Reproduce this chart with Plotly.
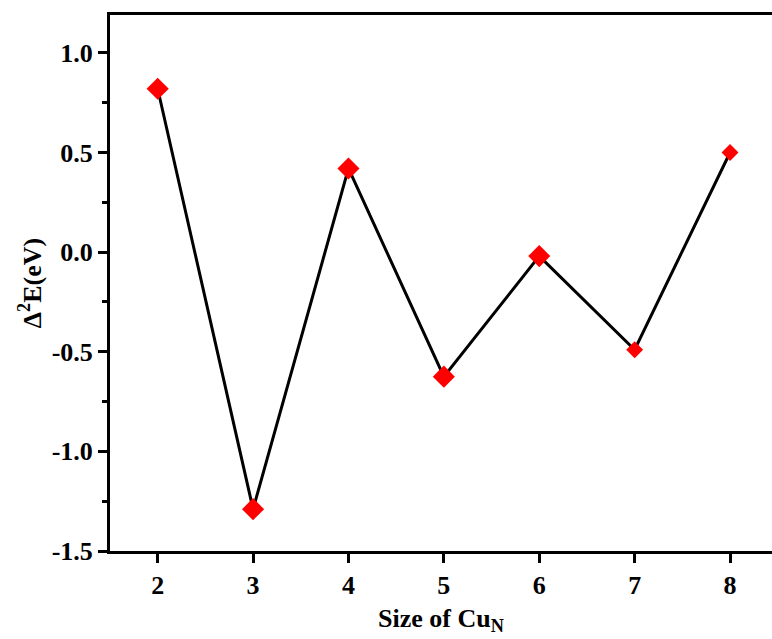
import plotly.graph_objects as go

sizes_n = [2, 3, 4, 5, 6, 7, 8]
delta2_e = [0.82, -1.29, 0.42, -0.625, -0.02, -0.49, 0.50]

FONT = "Liberation Serif, Times New Roman, serif"
marker_sizes = [17, 17, 17, 17, 17, 13, 13]

fig = go.Figure()
fig.add_trace(go.Scatter(
    x=sizes_n, y=delta2_e, mode="lines+markers",
    line=dict(color="black", width=3),
    marker=dict(symbol="diamond", color="rgb(255,0,0)", size=marker_sizes, opacity=1, line=dict(width=0)),
    opacity=1,
    showlegend=False,
))

fig.update_layout(
    width=772, height=639,
    margin=dict(l=110, r=0, t=15, b=88),
    paper_bgcolor="white", plot_bgcolor="white",
    font=dict(family=FONT, size=26, color="black", weight="bold"),
)
fig.update_xaxes(
    range=[1.5, 8.44], tickvals=sizes_n, ticktext=[str(v) for v in sizes_n],
    showline=True, linecolor="black", linewidth=3, mirror=True,
    ticks="outside", ticklen=9, tickwidth=3, tickcolor="black",
    showgrid=False, zeroline=False,
    tickfont=dict(family=FONT, size=26, weight="bold"),
    title=dict(text="Size of Cu<sub>N</sub>", font=dict(family=FONT, size=26, weight="bold"), standoff=10),
)
fig.update_yaxes(
    range=[-1.5, 1.19], tickvals=[-1.5, -1.0, -0.5, 0.0, 0.5, 1.0],
    ticktext=["-1.5", "-1.0", "-0.5", "0.0", "0.5", "1.0"],
    showline=True, linecolor="black", linewidth=3, mirror=False,
    ticks="outside", ticklen=9, tickwidth=3, tickcolor="black",
    minor=dict(tickvals=[-1.25, -0.75, -0.25, 0.25, 0.75], ticks="outside", ticklen=5, tickwidth=3, tickcolor="black"),
    showgrid=False, zeroline=False,
    tickfont=dict(family=FONT, size=26, weight="bold"),
    title=dict(text="Δ<sup>2</sup>E(eV)", font=dict(family=FONT, size=26, weight="bold"), standoff=3),
)

fig.write_html("out.html")
